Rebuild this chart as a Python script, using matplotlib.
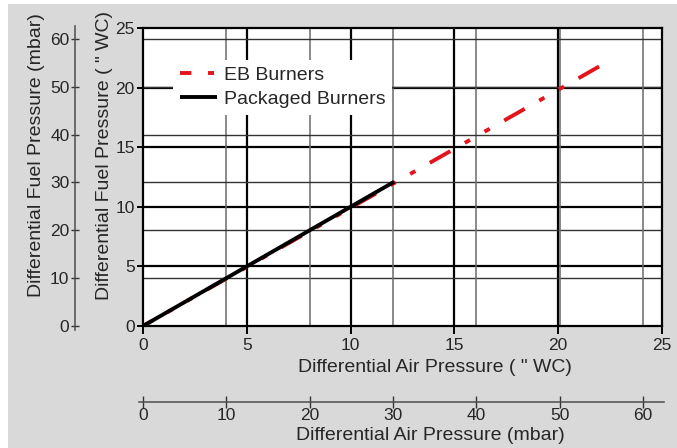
import matplotlib
matplotlib.use('Agg')
import matplotlib.pyplot as plt
from matplotlib.patches import Rectangle

plt.rcParams['font.family'] = ['Liberation Sans', 'DejaVu Sans']
plt.rcParams['lines.scale_dashes'] = False

K = 2.49  # mbar per inch WC

wc_ticks = [0, 5, 10, 15, 20, 25]
mbar_ticks = [0, 10, 20, 30, 40, 50, 60]

eb_x = [0, 22.0]
eb_y = [0, 21.8]
pkg_x = [0, 12.1]
pkg_y = [0, 12.1]

W, H = 677, 448
fig = plt.figure(figsize=(W / 100, H / 100), dpi=100)
fig.patch.set_facecolor('white')
fig.patches.append(Rectangle((8 / W, 0), 1, 1 - 4 / H, transform=fig.transFigure,
                             facecolor='#d9d9d9', edgecolor='none', zorder=-10))

TXT = '#262626'

def px(x0, y0, x1, y1):
    return [x0 / W, 1 - y1 / H, (x1 - x0) / W, (y1 - y0) / H]

ax = fig.add_axes(px(143, 28, 662, 326))
ax.set_facecolor('white')
ax.set_xlim(0, 25)
ax.set_ylim(0, 25)

for v in wc_ticks[1:-1]:
    ax.axvline(v, color='black', lw=1.6, zorder=1)
    ax.axhline(v, color='black', lw=1.6, zorder=1)
for m in mbar_ticks[1:]:
    ax.axvline(m / K, color='#6a6a6a', lw=1.1, zorder=1)
    ax.axhline(m / K, color='#333333', lw=1.0, zorder=1)

ax.plot(eb_x, eb_y, color='#e3141b', lw=2.8,
        linestyle=(8.8, (17, 12, 4.3, 12, 4.3, 12)), dash_capstyle='butt',
        label='EB Burners', zorder=3)
ax.plot(pkg_x, pkg_y, color='black', lw=2.8, solid_capstyle='butt',
        label='Packaged Burners', zorder=4)

for s in ax.spines.values():
    s.set_linewidth(1.6)
    s.set_color('black')
ax.set_xticks(wc_ticks)
ax.set_yticks(wc_ticks)
ax.tick_params(axis='x', direction='out', length=6, width=1.4, color='black',
               labelsize=12.5, labelcolor=TXT, pad=3)
ax.tick_params(axis='y', direction='out', length=4, width=1.4, color='black',
               labelsize=12.5, labelcolor=TXT, pad=2)

leg = ax.legend(loc='upper left', bbox_to_anchor=(0.058, 0.893), fontsize=14,
                frameon=True, fancybox=False, framealpha=1, edgecolor='none',
                facecolor='white', handlelength=1.9, handletextpad=0.35,
                borderpad=0.35, labelspacing=0.3, borderaxespad=0)
for t in leg.get_texts():
    t.set_color(TXT)

# left mbar axis
axL = fig.add_axes(px(75, 28, 76, 326))
axL.set_ylim(0, 25 * K)
axL.patch.set_visible(False)
for k in ('top', 'right', 'bottom'):
    axL.spines[k].set_visible(False)
axL.spines['left'].set_color('#4d4d4d')
axL.spines['left'].set_linewidth(1.1)
axL.spines['left'].set_bounds(-0.8, 62.6)
axL.set_xticks([])
axL.set_yticks(mbar_ticks)
axL.tick_params(axis='y', direction='inout', length=6, width=1.0, color='#333333',
                labelsize=12.5, labelcolor=TXT, pad=1)

# bottom mbar axis
axB = fig.add_axes(px(143, 401, 662, 402))
axB.set_xlim(0, 25 * K)
axB.patch.set_visible(False)
for k in ('top', 'right', 'left'):
    axB.spines[k].set_visible(False)
axB.spines['bottom'].set_color('#4d4d4d')
axB.spines['bottom'].set_linewidth(1.1)
axB.spines['bottom'].set_bounds(-0.5, 62.5)
axB.set_yticks([])
axB.set_xticks(mbar_ticks)
axB.tick_params(axis='x', direction='inout', length=9, width=1.0, color='#333333',
                labelsize=12.5, labelcolor=TXT, pad=0)

fig.text(36.5 / W, 1 - 155 / H, 'Differential Fuel Pressure (mbar)', rotation=90,
         ha='center', va='center', fontsize=14, color=TXT)
fig.text(105 / W, 1 - 155 / H, 'Differential Fuel Pressure ( " WC)', rotation=90,
         ha='center', va='center', fontsize=14, color=TXT)
fig.text(435 / W, 1 - 367 / H, 'Differential Air Pressure ( " WC)',
         ha='center', va='center', fontsize=14, color=TXT)
fig.text(430 / W, 1 - 435 / H, 'Differential Air Pressure (mbar)',
         ha='center', va='center', fontsize=14, color=TXT)

fig.savefig('out.png', dpi=100, facecolor=fig.get_facecolor())
